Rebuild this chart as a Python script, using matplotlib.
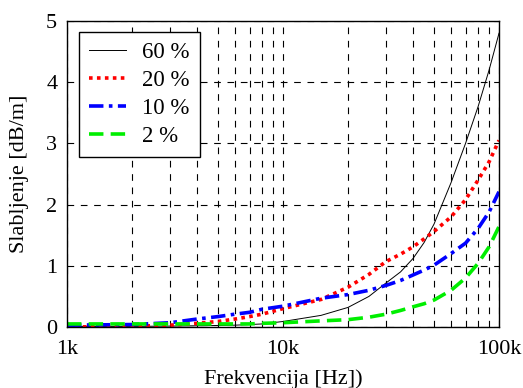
import matplotlib
matplotlib.use("Agg")
import matplotlib.pyplot as plt
from matplotlib.ticker import FixedLocator, NullFormatter

plt.rcParams['font.family'] = ['Liberation Serif', 'DejaVu Serif']

freq = [1e3, 2e3, 3e3, 4e3, 5e3, 6e3, 7e3, 8e3, 10e3, 15e3, 20e3, 25e3, 30e3, 35e3,
        40e3, 45e3, 50e3, 60e3, 70e3, 80e3, 90e3, 100e3]
att_60 = [0.01, 0.01, 0.015, 0.02, 0.025, 0.03, 0.04, 0.05, 0.09, 0.19, 0.32, 0.50,
          0.72, 0.90, 1.12, 1.38, 1.68, 2.36, 3.0, 3.6, 4.2, 4.8]
att_20 = [0.0, 0.01, 0.03, 0.06, 0.09, 0.13, 0.17, 0.21, 0.30, 0.45, 0.65, 0.86,
          1.07, 1.19, 1.31, 1.44, 1.56, 1.80, 2.08, 2.40, 2.70, 3.05]
att_10 = [0.03, 0.04, 0.07, 0.13, 0.17, 0.21, 0.24, 0.29, 0.34, 0.47, 0.53, 0.60,
          0.68, 0.76, 0.85, 0.93, 1.01, 1.20, 1.37, 1.61, 1.88, 2.21]
att_2 = [0.05, 0.05, 0.05, 0.05, 0.05, 0.05, 0.05, 0.06, 0.07, 0.10, 0.12, 0.16,
         0.21, 0.27, 0.33, 0.38, 0.44, 0.60, 0.80, 1.04, 1.31, 1.64]

fig = plt.figure(figsize=(5.23, 3.88), dpi=100)
ax = fig.add_axes([67/523, 1 - 327/388, 432/523, 306/388])

ax.plot(freq, att_60, color='black', lw=0.7, label='60 %')
ax.plot(freq, att_20, color='red', lw=2.6, ls=(0, (1, 1.2)), label='20 %')
ax.plot(freq, att_10, color='blue', lw=2.6, ls=(0, (4, 1.5, 1, 1.5)), label='10 %')
ax.plot(freq, att_2, color='#00ee00', lw=2.6, ls=(0, (4, 2)), label='2 %')

ax.set_xscale('log')
ax.set_xlim(1e3, 1e5)
ax.set_ylim(0, 5)
ax.set_xticks([1e3, 1e4, 1e5])
ax.set_xticklabels(['1k', '10k', '100k'])
ax.xaxis.set_minor_locator(FixedLocator([m * d for d in (1e3, 1e4) for m in range(2, 10)]))
ax.xaxis.set_minor_formatter(NullFormatter())
ax.set_yticks([0, 1, 2, 3, 4, 5])
ax.tick_params(which='both', length=0, labelsize=16)
ax.tick_params(axis='x', pad=9)
ax.tick_params(axis='y', pad=7)
ax.grid(True, which='both', axis='x', color='black', ls=(0, (6, 6)), lw=0.8)
ax.grid(True, which='major', axis='y', color='black', ls=(0, (6, 6)), lw=0.8)
for s in ax.spines.values():
    s.set_linewidth(1.0)

ax.set_xlabel('Frekvencija [Hz])', fontsize=16, labelpad=8)
ax.set_ylabel('Slabljenje [dB/m]', fontsize=16, labelpad=12)

leg = ax.legend(loc='upper left', bbox_to_anchor=(0.028, 0.964), borderaxespad=0,
                fontsize=16.5, handlelength=1.6, handletextpad=0.7, labelspacing=0.3,
                fancybox=False, framealpha=1, edgecolor='black', borderpad=0.45)
leg.get_frame().set_linewidth(1.0)

fig.savefig('out.png', dpi=100)
